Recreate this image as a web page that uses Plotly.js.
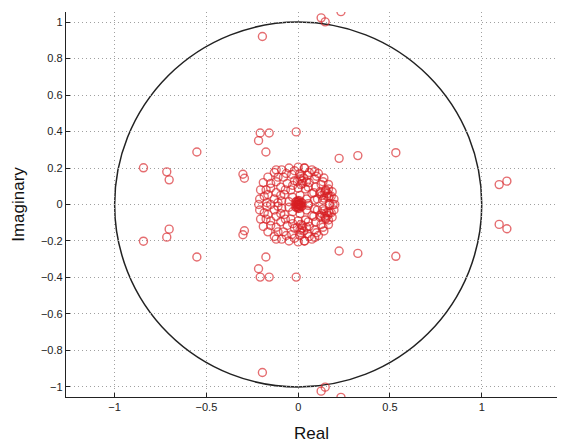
<!DOCTYPE html>
<html>
<head>
<meta charset="utf-8">
<script src="https://cdn.plot.ly/plotly-3.0.1.min.js"></script>
<style>html,body{margin:0;padding:0;background:#fff;}#chart{width:567px;height:444px;}</style>
</head>
<body>
<div id="chart"></div>
<script>
// Real and imaginary parts of the plotted roots
var outerRe = [0.125, 0.147, 0.233, -0.195, 0.125, 0.147, 0.233, -0.195,
  1.095, 1.137, 1.095, 1.137,
  -0.843, -0.716, -0.703, -0.552, -0.301, -0.293,
  -0.843, -0.716, -0.703, -0.552, -0.301, -0.293,
  -0.207, -0.158, -0.216, -0.176, -0.011, 0.223, 0.325, 0.532,
  -0.207, -0.158, -0.216, -0.176, -0.011, 0.223, 0.325, 0.532];
var outerIm = [1.023, 1.001, 1.057, 0.921, -1.023, -1.001, -1.057, -0.921,
  0.109, 0.128, -0.109, -0.133,
  0.201, 0.179, 0.135, 0.288, 0.166, 0.144,
  -0.201, -0.179, -0.135, -0.288, -0.166, -0.144,
  0.392, 0.392, 0.350, 0.288, 0.398, 0.253, 0.268, 0.284,
  -0.398, -0.398, -0.352, -0.288, -0.398, -0.255, -0.268, -0.284];

var clusterRe = [
  // outer ring ~0.2
  -0.21, -0.205, -0.19, -0.165, -0.13, -0.09, -0.05, 0.0, 0.035, 0.075, 0.11, 0.14, 0.165, 0.185, 0.195,
  -0.21, -0.205, -0.19, -0.165, -0.13, -0.09, -0.05, 0.0, 0.035, 0.075, 0.11, 0.14, 0.165, 0.185, 0.195,
  // ring ~0.185
  -0.185, -0.175, -0.15, -0.11, -0.065, -0.02, 0.06, 0.1, 0.135, 0.165, 0.18,
  -0.185, -0.175, -0.15, -0.11, -0.065, -0.02, 0.06, 0.1, 0.135, 0.165, 0.18,
  // ring ~0.165
  -0.17, -0.165, -0.15, -0.12, -0.08, -0.035, 0.01, 0.05, 0.09, 0.125, 0.15, 0.165, 0.17,
  -0.17, -0.165, -0.15, -0.12, -0.08, -0.035, 0.01, 0.05, 0.09, 0.125, 0.15, 0.165, 0.17,
  // ring ~0.13
  -0.13, -0.12, -0.095, -0.06, -0.02, 0.02, 0.06, 0.095, 0.12, 0.135,
  -0.13, -0.12, -0.095, -0.06, -0.02, 0.02, 0.06, 0.095, 0.12, 0.135,
  // ring ~0.11
  -0.11, -0.095, -0.07, -0.03, 0.015, 0.055, 0.085, 0.105,
  -0.11, -0.095, -0.07, -0.03, 0.015, 0.055, 0.085, 0.105,
  // ring ~0.09
  -0.09, -0.075, -0.04, 0.0, 0.04, 0.075, 0.09,
  -0.09, -0.075, -0.04, 0.0, 0.04, 0.075, 0.09,
  // ring ~0.05
  -0.05, -0.03, 0.01, 0.045, 0.055,
  -0.05, -0.03, 0.01, 0.045, 0.055,
  // right clusters
  0.13, 0.145, 0.155, 0.14, 0.12, 0.16, 0.15, 0.17,
  0.13, 0.145, 0.155, 0.14, 0.12, 0.16, 0.15, 0.17,
  // top / bottom clusters
  0.01, 0.03, 0.045, -0.005, 0.025, 0.015,
  0.01, 0.03, 0.045, -0.005, 0.025, 0.015,
  // near ring edge
  0.09, 0.033, -0.12, 0.09, 0.033, -0.12,
  // on the real axis
  -0.215, -0.15, 0.19, 0.2,
  // origin
  0.0, 0.0, 0.0, 0.005, -0.005, 0.01, 0.0, -0.01, 0.015, 0.005, -0.005, 0.0, 0.015, 0.01,
  0.02, -0.015, 0.008, -0.008, 0.02, -0.015, 0.008, -0.008, 0.0, 0.0
];
var clusterIm = [
  0.03, 0.08, 0.12, 0.15, 0.175, 0.19, 0.2, 0.205, 0.2, 0.19, 0.17, 0.145, 0.11, 0.07, 0.03,
  -0.03, -0.08, -0.12, -0.15, -0.175, -0.19, -0.2, -0.205, -0.2, -0.19, -0.17, -0.145, -0.11, -0.07, -0.03,
  0.045, 0.08, 0.115, 0.15, 0.17, 0.185, 0.175, 0.155, 0.125, 0.085, 0.045,
  -0.045, -0.08, -0.115, -0.15, -0.17, -0.185, -0.175, -0.155, -0.125, -0.085, -0.045,
  0.01, 0.055, 0.09, 0.125, 0.15, 0.165, 0.17, 0.16, 0.14, 0.11, 0.075, 0.04, 0.005,
  -0.01, -0.055, -0.09, -0.125, -0.15, -0.165, -0.17, -0.16, -0.14, -0.11, -0.075, -0.04, -0.005,
  0.03, 0.065, 0.095, 0.115, 0.13, 0.13, 0.12, 0.095, 0.06, 0.025,
  -0.03, -0.065, -0.095, -0.115, -0.13, -0.13, -0.12, -0.095, -0.06, -0.025,
  0.01, 0.05, 0.08, 0.105, 0.11, 0.095, 0.065, 0.03,
  -0.01, -0.05, -0.08, -0.105, -0.11, -0.095, -0.065, -0.03,
  0.02, 0.055, 0.08, 0.09, 0.085, 0.06, 0.025,
  -0.02, -0.055, -0.08, -0.09, -0.085, -0.06, -0.025,
  0.015, 0.04, 0.05, 0.03, 0.005,
  -0.015, -0.04, -0.05, -0.03, -0.005,
  0.05, 0.065, 0.045, 0.035, 0.07, 0.06, 0.08, 0.045,
  -0.05, -0.065, -0.045, -0.035, -0.07, -0.06, -0.08, -0.045,
  0.14, 0.145, 0.125, 0.125, 0.115, 0.155,
  -0.14, -0.145, -0.125, -0.125, -0.115, -0.155,
  0.18, 0.2, 0.19, -0.18, -0.2, -0.19,
  0.0, 0.0, 0.0, 0.0,
  0.0, 0.0, 0.0, 0.005, 0.01, 0.0, 0.015, 0.0, 0.01, -0.005, -0.01, -0.015, -0.01, -0.005,
  0.01, 0.012, 0.02, 0.018, -0.01, -0.012, -0.02, -0.018, 0.022, -0.022
];

var xTicks = [-1, -0.5, 0, 0.5, 1];
var yTicks = [-1, -0.8, -0.6, -0.4, -0.2, 0, 0.2, 0.4, 0.6, 0.8, 1];

var mk = {symbol: 'circle-open', size: 8, color: 'rgba(215,30,35,0.65)', line: {width: 1.4, color: 'rgba(215,30,35,0.65)'}};
var traces = [
  {x: outerRe, y: outerIm, type: 'scatter', mode: 'markers', marker: mk, hoverinfo: 'x+y'},
  {x: clusterRe, y: clusterIm, type: 'scatter', mode: 'markers', marker: mk, hoverinfo: 'x+y'}
];

var axFont = {family: 'Liberation Sans, Arial, sans-serif', size: 11, color: '#222'};
var layout = {
  width: 567, height: 444,
  margin: {l: 66, r: 10, t: 12, b: 47},
  paper_bgcolor: '#fff', plot_bgcolor: '#fff',
  showlegend: false,
  font: {family: 'Liberation Sans, Arial, sans-serif', color: '#222'},
  xaxis: {
    range: [-1.265, 1.41], tickvals: xTicks, ticktext: ['\u22121', '\u22120.5', '0', '0.5', '1'],
    showgrid: true, gridcolor: '#a0a0a0', griddash: '1px,3px', gridwidth: 1,
    zeroline: false, showline: true, linecolor: '#222', linewidth: 1.2,
    ticks: 'inside', ticklen: 4, tickcolor: '#222', tickfont: axFont,
    title: {text: 'Real', font: {size: 17, color: '#111'}, standoff: 14}
  },
  yaxis: {
    range: [-1.055, 1.055], tickvals: yTicks,
    ticktext: ['\u22121', '\u22120.8', '\u22120.6', '\u22120.4', '\u22120.2', '0', '0.2', '0.4', '0.6', '0.8', '1'],
    showgrid: true, gridcolor: '#a0a0a0', griddash: '1px,3px', gridwidth: 1,
    zeroline: false, showline: true, linecolor: '#222', linewidth: 1.2,
    ticks: 'inside', ticklen: 4, tickcolor: '#222', tickfont: axFont,
    title: {text: 'Imaginary', font: {size: 17, color: '#111'}, standoff: 12}
  },
  shapes: [{type: 'circle', xref: 'x', yref: 'y', x0: -1, x1: 1, y0: -1, y1: 1, line: {color: '#222', width: 1.5}, layer: 'below'}]
};
Plotly.newPlot('chart', traces, layout, {staticPlot: true, displayModeBar: false});
</script>
</body>
</html>
